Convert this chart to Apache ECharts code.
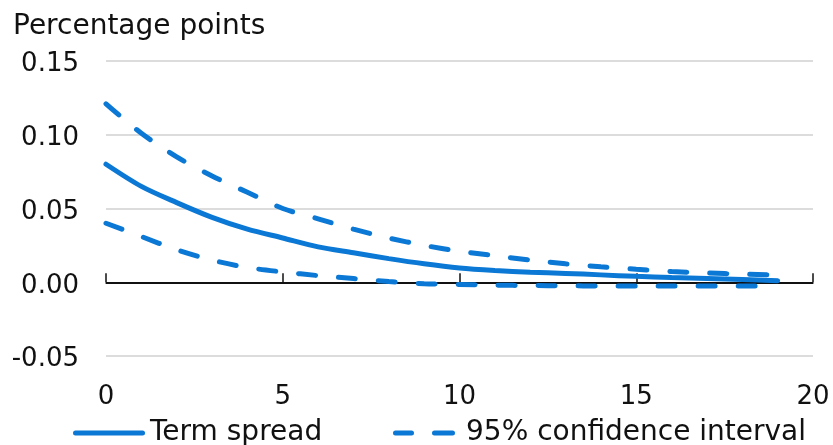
<!DOCTYPE html>
<html>
<head>
<meta charset="utf-8">
<script src="https://cdn.jsdelivr.net/npm/echarts@6/dist/echarts.min.js"></script>
<style>
html,body{margin:0;padding:0;background:#fff;}
#chart{width:833px;height:445px;}
</style>
</head>
<body>
<div id="chart"></div>
<script>
const horizons = [0,1,2,3,4,5,6,7,8,9,10,11,12,13,14,15,16,17,18,19];
const termSpread = [0.080,0.065,0.054,0.044,0.036,0.030,0.024,0.020,0.016,0.0125,0.0097,0.008,0.0068,0.006,0.005,0.004,0.0032,0.0025,0.0018,0.001];
const upperCI = [0.121,0.101,0.085,0.072,0.061,0.050,0.043,0.036,0.030,0.025,0.021,0.018,0.015,0.0125,0.0105,0.0088,0.0073,0.0063,0.0055,0.0048];
const lowerCI = [0.040,0.031,0.022,0.015,0.010,0.007,0.0045,0.0025,0.0005,-0.001,-0.0015,-0.002,-0.0022,-0.0024,-0.0025,-0.0025,-0.0025,-0.0025,-0.0025,-0.0025];
const yTicks = [-0.05,0,0.05,0.10,0.15];
const xTicks = [0,5,10,15,20];

const blue = '#0a78d4';
const ink = '#111';
const font = 'DejaVu Sans';
const pair = (arr) => horizons.map((h,i)=>[h,arr[i]]);

const solidIcon = 'path://M2.5,0H69.5A2.5,2.5,0,0,1,69.5,5H2.5A2.5,2.5,0,0,1,2.5,0Z';
const dashIcon = 'path://M2.5,0H18.5A2.5,2.5,0,0,1,18.5,5H2.5A2.5,2.5,0,0,1,2.5,0Z M41.5,0H59.5A2.5,2.5,0,0,1,59.5,5H41.5A2.5,2.5,0,0,1,41.5,0Z';

const chart = echarts.init(document.getElementById('chart'), null, {renderer:'canvas'});
chart.setOption({
  animation:false,
  textStyle:{fontFamily:font},
  title:{text:'Percentage points',left:8,top:8,textStyle:{fontFamily:font,fontSize:28,fontWeight:'normal',color:ink}},
  grid:{left:106,right:20,top:61,bottom:89,containLabel:false},
  xAxis:{type:'value',min:xTicks[0],max:xTicks[xTicks.length-1],interval:5,
    axisLine:{show:true,lineStyle:{color:ink,width:1.5}},
    axisTick:{show:true,inside:true,length:9,lineStyle:{color:ink,width:1.5}},
    axisLabel:{fontFamily:font,fontSize:26,color:ink,margin:28},
    splitLine:{show:false}},
  yAxis:{type:'value',min:yTicks[0],max:yTicks[yTicks.length-1],interval:0.05,
    axisLine:{show:false},axisTick:{show:false},
    axisLabel:{fontFamily:font,fontSize:26,color:ink,margin:27,
      formatter:v=>'{v|'+v.toFixed(2)+'}',
      rich:{v:{fontFamily:font,fontSize:26,color:ink,padding:[7,0,0,0]}}},
    splitLine:{show:true,lineStyle:{color:'#d0d0d0',width:1.5}}},
  legend:[
    {left:73,top:419,padding:0,itemWidth:72,itemHeight:5,
      textStyle:{fontFamily:font,fontSize:28,color:ink},
      data:[{name:'Term spread',icon:solidIcon}]},
    {left:393,top:419,padding:0,itemWidth:62,itemHeight:5,
      textStyle:{fontFamily:font,fontSize:28,color:ink,padding:[0,0,0,6]},
      data:[{name:'95% confidence interval',icon:dashIcon}]}
  ],
  series:[
    {name:'95% confidence interval',type:'line',data:pair(upperCI),symbol:'none',smooth:0.3,
      lineStyle:{color:blue,width:5,type:[17,23],cap:'round'},itemStyle:{color:blue},z:3},
    {name:'95% confidence interval',type:'line',data:pair(lowerCI),symbol:'none',smooth:0.3,
      lineStyle:{color:blue,width:5,type:[17,23],cap:'round'},itemStyle:{color:blue},z:3},
    {name:'Term spread',type:'line',data:pair(termSpread),symbol:'none',smooth:0.3,
      lineStyle:{color:blue,width:5,cap:'round'},itemStyle:{color:blue},z:4,
      markLine:{silent:true,symbol:['none','none'],label:{show:false},
        lineStyle:{color:ink,width:1.8,type:'solid'},data:[{yAxis:0}],z:2}}
  ]
});
</script>
</body>
</html>
